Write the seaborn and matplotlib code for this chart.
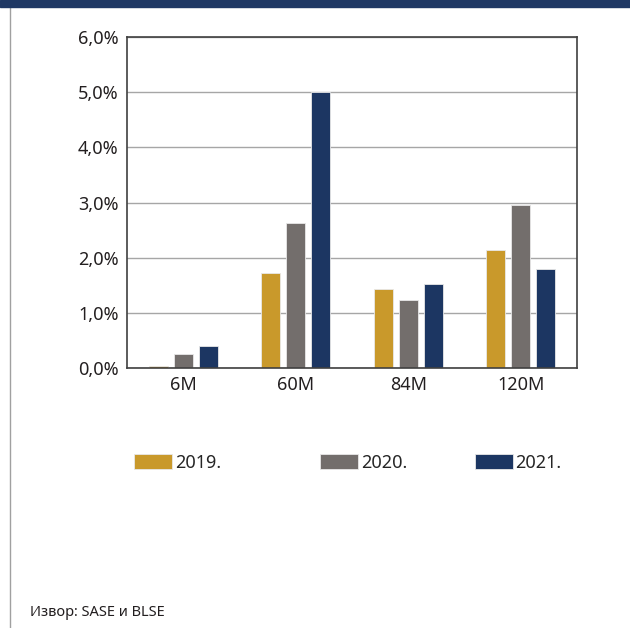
import pandas as pd
import numpy as np
import seaborn as sns
import matplotlib.pyplot as plt
from matplotlib.patches import Rectangle
from matplotlib.lines import Line2D
from matplotlib.ticker import FuncFormatter

# data
maturities = ['6M', '60M', '84M', '120M']
years = ['2019.', '2020.', '2021.']
v2019 = [0.04, 1.72, 1.43, 2.14]
v2020 = [0.25, 2.63, 1.23, 2.95]
v2021 = [0.40, 5.00, 1.52, 1.79]
colors = ['#C9992B', '#736E6C', '#1C3662']

df = pd.DataFrame({
    'Рочност': maturities * 3,
    'Година': [y for y in years for _ in maturities],
    'Принос': v2019 + v2020 + v2021,
})

sns.set_style('white')
plt.rcParams['font.family'] = ['Noto Sans', 'DejaVu Sans']

fig = plt.figure(figsize=(6.3, 6.28), dpi=100)
ax = fig.add_axes([127 / 630, 1 - 368 / 628, 450 / 630, 331 / 628])

sns.barplot(data=df, x='Рочност', y='Принос', hue='Година', palette=colors,
            saturation=1, width=0.667, gap=0.24, edgecolor='#e8e8e8',
            linewidth=0.6, ax=ax)

ax.set_ylim(0, 6)
ax.set_yticks(np.arange(0, 7, 1))
ax.yaxis.set_major_formatter(FuncFormatter(lambda v, p: f'{v:.1f}%'.replace('.', ',')))
ax.grid(axis='y', color='#a6a6a6', linewidth=1)
ax.set_axisbelow(True)
for s in ax.spines.values():
    s.set_visible(True)
    s.set_color('#404040')
    s.set_linewidth(1.2)
ax.tick_params(axis='both', labelsize=13, colors='#231f20', length=0, pad=6)
ax.set_xlabel('')
ax.set_ylabel('')

# legend: one entry per year, placed like in the original
handles, labels = ax.get_legend_handles_labels()
ax.get_legend().remove()
xpos = [134, 320, 475]
for h, lab, x in zip(handles, labels, xpos):
    fig.legend([h], [lab], loc='center left', bbox_to_anchor=(x / 630, 1 - 463 / 628),
               frameon=False, fontsize=13, handlelength=2.1, handleheight=0.9,
               handletextpad=0.15, borderaxespad=0, borderpad=0)

# banner on top and left rule
fig.patches.append(Rectangle((0, 1 - 7 / 628), 1, 7 / 628, transform=fig.transFigure,
                             color='#1F3864', zorder=5))
fig.lines.append(Line2D([10 / 630, 10 / 630], [0, 1 - 7 / 628], transform=fig.transFigure,
                        color='#a0a0a0', linewidth=1))

fig.text(30 / 630, 1 - 612 / 628, 'Извор: SASE и BLSE', fontsize=10.5, color='#231f20',
         va='center', ha='left')

fig.savefig('out.png', dpi=100)
